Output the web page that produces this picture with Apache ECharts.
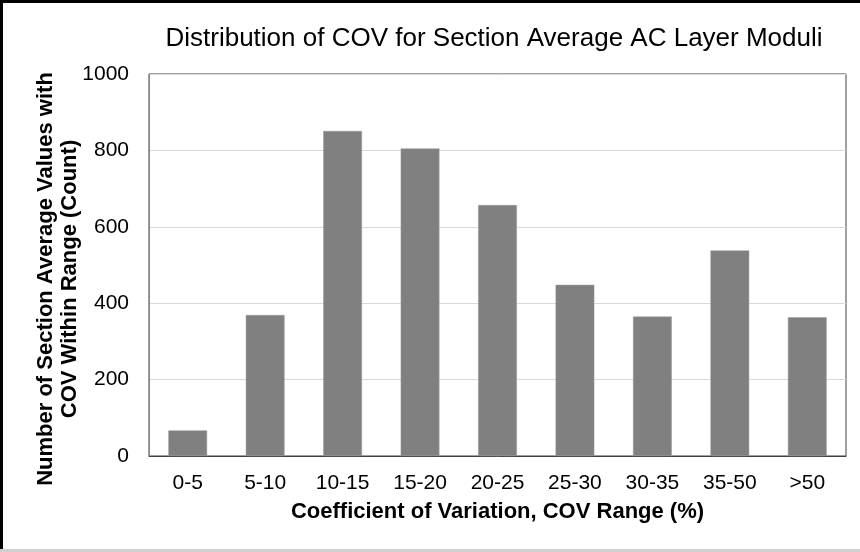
<!DOCTYPE html>
<html>
<head>
<meta charset="utf-8">
<script src="https://cdn.jsdelivr.net/npm/echarts@6/dist/echarts.min.js"></script>
<style>
  html, body { margin: 0; padding: 0; background: #fff; }
  #chart { width: 860px; height: 552px; }
</style>
</head>
<body>
<div id="chart"></div>
<script>
// COV ranges and section counts
const covRanges = ['0-5', '5-10', '10-15', '15-20', '20-25', '25-30', '30-35', '35-50', '>50'];
const sectionCounts = [67, 369, 851, 805, 657, 448, 365, 538, 363];
const yTicks = [0, 200, 400, 600, 800, 1000];

const font = 'Liberation Sans, Arial, sans-serif';

const chart = echarts.init(document.getElementById('chart'), null, { renderer: 'canvas' });

chart.setOption({
    backgroundColor: '#fff',
    animation: false,
    title: {
        text: 'Distribution of COV for Section Average AC Layer Moduli',
        left: 489,
        textAlign: 'center',
        top: 21,
        textStyle: { fontFamily: font, fontSize: 26, fontWeight: 'normal', color: '#000' }
    },
    grid: {
        left: 149, right: 14, top: 74, bottom: 96,
        show: true,
        borderColor: '#404040',
        borderWidth: 1
    },
    xAxis: {
        type: 'category',
        data: covRanges,
        axisTick: { show: false },
        axisLine: { lineStyle: { color: '#404040', width: 1 } },
        axisLabel: { fontFamily: font, fontSize: 21, color: '#000', margin: 17 },
        name: 'Coefficient of Variation, COV Range (%)',
        nameLocation: 'middle',
        nameGap: 45,
        nameTextStyle: { fontFamily: font, fontSize: 22, fontWeight: 'bold', color: '#000' }
    },
    yAxis: {
        type: 'value',
        min: yTicks[0],
        max: yTicks[yTicks.length - 1],
        interval: 200,
        axisLine: { show: true, lineStyle: { color: '#888', width: 1 } },
        axisTick: { show: false },
        axisLabel: {
            fontFamily: font, fontSize: 21, color: '#000', margin: 20,
            formatter: v => String(v)
        },
        splitLine: { lineStyle: { color: '#d9d9d9', width: 1 } }
    },
    graphic: [
        {
            type: 'text',
            x: 58, y: 279,
            rotation: Math.PI / 2,
            style: {
                text: 'Number of Section Average Values with\nCOV Within Range (Count)',
                font: 'bold 22px ' + font,
                fill: '#000',
                align: 'center',
                verticalAlign: 'middle',
                lineHeight: 24
            }
        },
        // frame around the picture: black top/left, grey bottom
        { type: 'rect', shape: { x: 0, y: 0, width: 860, height: 3 }, style: { fill: '#000' } },
        { type: 'rect', shape: { x: 0, y: 0, width: 3, height: 552 }, style: { fill: '#000' } },
        { type: 'rect', shape: { x: 0, y: 549, width: 860, height: 3 }, style: { fill: '#d0d0d0' } }
    ],
    series: [{
        type: 'bar',
        data: sectionCounts,
        barWidth: '50%',
        itemStyle: { color: '#808080', borderColor: '#999', borderWidth: 0.5 }
    }]
});
</script>
</body>
</html>
